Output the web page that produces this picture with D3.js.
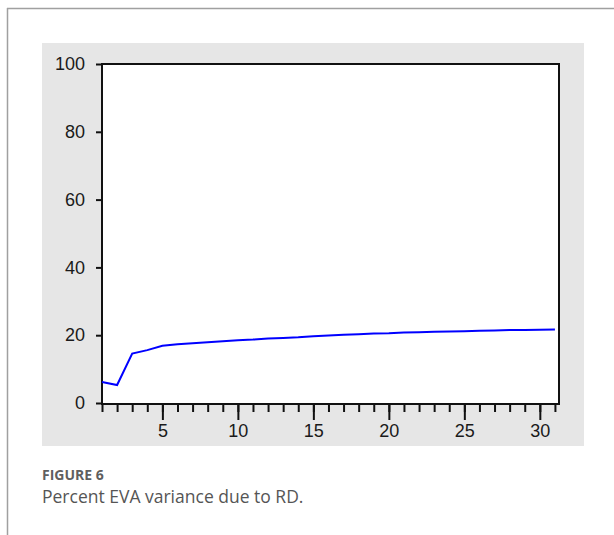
<!DOCTYPE html>
<html>
<head>
<meta charset="utf-8">
<script src="https://cdn.jsdelivr.net/npm/d3@7"></script>
<style>
  body { margin: 0; background: #fff; }
  svg { display: block; }
</style>
</head>
<body>
<svg id="chart"></svg>
<script>
// periods of the variance decomposition and percent of EVA variance due to RD
const periods = d3.range(1, 32);
const percentRD = [6.2, 5.3, 14.6, 15.6, 16.9, 17.3, 17.6, 17.9, 18.2, 18.5,
  18.7, 19.0, 19.2, 19.4, 19.7, 19.9, 20.1, 20.3, 20.5, 20.6,
  20.8, 20.9, 21.0, 21.1, 21.2, 21.3, 21.4, 21.5, 21.5, 21.6, 21.7];
const yTicks = [0, 20, 40, 60, 80, 100];
const xMajorTicks = [5, 10, 15, 20, 25, 30];

const width = 614, height = 535;
const svg = d3.select("#chart").attr("width", width).attr("height", height);

// outer page border (top + left)
svg.append("line").attr("x1", 7).attr("y1", 8.5).attr("x2", width).attr("y2", 8.5)
  .attr("stroke", "#a0a0a0").attr("stroke-width", 1.5);
svg.append("line").attr("x1", 7.5).attr("y1", 8).attr("x2", 7.5).attr("y2", height)
  .attr("stroke", "#a0a0a0").attr("stroke-width", 1.5);

// grey panel behind the plot
svg.append("rect").attr("x", 42).attr("y", 43).attr("width", 542).attr("height", 403)
  .attr("fill", "#e6e6e6");

const x = d3.scaleLinear().domain([1, 31.27]).range([102, 559]);
const y = d3.scaleLinear().domain([0, 100]).range([403, 64]);

// white plot area
svg.append("rect")
  .attr("x", x(1)).attr("y", y(100))
  .attr("width", x(31.27) - x(1)).attr("height", y(0) - y(100) + 1)
  .attr("fill", "#fff");

// y axis ticks + labels
const yAxis = d3.axisLeft(y).tickValues(yTicks).tickSize(6).tickPadding(11);
const gy = svg.append("g").attr("transform", `translate(${x(1)},0)`).call(yAxis);
gy.select(".domain").remove();
gy.selectAll(".tick line").attr("stroke", "#111").attr("stroke-width", 2);
gy.selectAll(".tick text")
  .attr("font-family", "Liberation Sans, Arial, sans-serif")
  .attr("font-size", 18).attr("fill", "#1a1a1a");

// x axis: minor ticks every period, longer ticks with labels every 5
const gx = svg.append("g").attr("transform", `translate(0,${y(0) + 1})`);
gx.call(d3.axisBottom(x).tickValues(periods).tickSize(8).tickFormat(""))
  .select(".domain").remove();
gx.selectAll(".tick line").attr("stroke", "#111").attr("stroke-width", 2);
const gx2 = svg.append("g").attr("transform", `translate(0,${y(0) + 1})`);
gx2.call(d3.axisBottom(x).tickValues(xMajorTicks).tickSize(16).tickPadding(4))
  .select(".domain").remove();
gx2.selectAll(".tick line").attr("stroke", "#111").attr("stroke-width", 2);
gx2.selectAll(".tick text")
  .attr("font-family", "Liberation Sans, Arial, sans-serif")
  .attr("font-size", 18).attr("fill", "#1a1a1a");

// plot frame
svg.append("rect")
  .attr("x", x(1)).attr("y", y(100))
  .attr("width", x(31.27) - x(1)).attr("height", y(0) - y(100) + 1)
  .attr("fill", "none").attr("stroke", "#111").attr("stroke-width", 2);

// data line
const line = d3.line().x((d, i) => x(periods[i])).y(d => y(d));
svg.append("path").datum(percentRD)
  .attr("d", line)
  .attr("fill", "none").attr("stroke", "#0000ff").attr("stroke-width", 2);

// caption
svg.append("text").attr("x", 42).attr("y", 480)
  .attr("font-family", "Open Sans, sans-serif").attr("font-size", 14).attr("font-weight", "bold")
  .attr("fill", "#5f5f5f").text("FIGURE 6");
svg.append("text").attr("x", 42).attr("y", 503)
  .attr("font-family", "Open Sans, sans-serif").attr("font-size", 17.5)
  .attr("fill", "#555").text("Percent EVA variance due to RD.");
</script>
</body>
</html>
